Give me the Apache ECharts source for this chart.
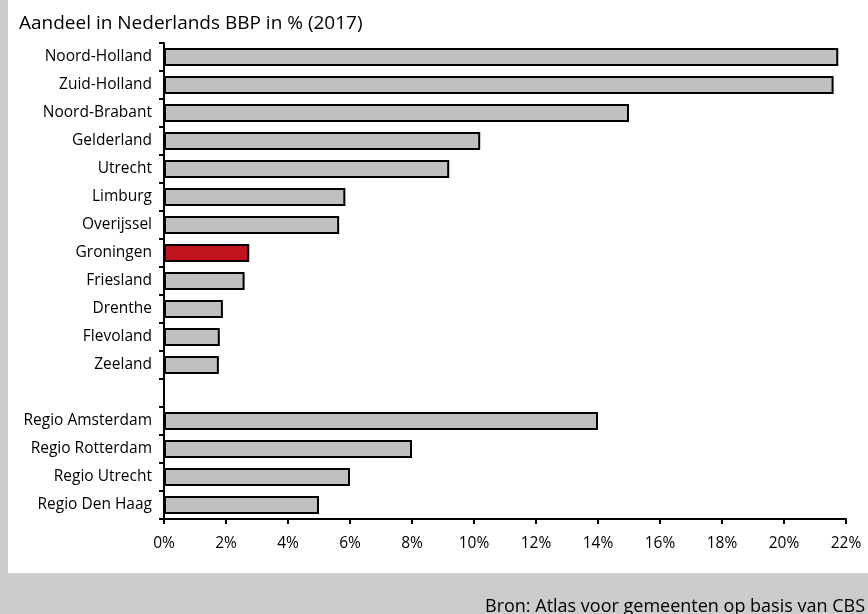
<!DOCTYPE html>
<html>
<head>
<meta charset="utf-8">
<script src="https://cdn.jsdelivr.net/npm/echarts@6/dist/echarts.min.js"></script>
<style>
html,body{margin:0;padding:0;background:#cccccc;}
#c{width:868px;height:614px;}
</style>
</head>
<body>
<div id="c"></div>
<script>
const categories = ['Noord-Holland','Zuid-Holland','Noord-Brabant','Gelderland','Utrecht','Limburg','Overijssel','Groningen','Friesland','Drenthe','Flevoland','Zeeland','','Regio Amsterdam','Regio Rotterdam','Regio Utrecht','Regio Den Haag'];
const values = [21.75, 21.6, 15.0, 10.2, 9.2, 5.85, 5.65, 2.75, 2.6, 1.9, 1.8, 1.77, null, 14.0, 8.0, 6.0, 5.0];
const highlight = 'Groningen';
const xTicks = [0, 2, 4, 6, 8, 10, 12, 14, 16, 18, 20, 22];
const titleText = 'Aandeel in Nederlands BBP in % (2017)';
const sourceText = 'Bron: Atlas voor gemeenten op basis van CBS';

const font = '"Open Sans", "Noto Sans", sans-serif';
const chart = echarts.init(document.getElementById('c'));
chart.setOption({
  animation: false,
  backgroundColor: 'transparent',
  graphic: [
    {type: 'rect', z: -10, shape: {x: 8, y: 0, width: 860, height: 573}, style: {fill: '#ffffff'}, silent: true},
    {type: 'text', z: 10, x: 485, y: 607, style: {text: sourceText, font: '18px ' + font, fill: '#000', verticalAlign: 'middle', align: 'left'}}
  ],
  title: {
    text: titleText, left: 14, top: 9,
    textStyle: {fontFamily: font, fontSize: 19, fontWeight: 'normal', color: '#000'}
  },
  grid: {left: 164, right: 22, top: 43, bottom: 95, containLabel: false},
  xAxis: {
    type: 'value', min: xTicks[0], max: xTicks[xTicks.length - 1], interval: 2,
    axisLine: {show: true, lineStyle: {color: '#000', width: 2}},
    axisTick: {show: true, length: 5, lineStyle: {color: '#000', width: 2}},
    splitLine: {show: false},
    axisLabel: {formatter: '{value}%', color: '#000', fontFamily: font, fontSize: 15.5, margin: 17}
  },
  yAxis: {
    type: 'category', data: categories, inverse: true,
    axisLine: {show: true, lineStyle: {color: '#000', width: 2}},
    axisTick: {show: true, length: 5, lineStyle: {color: '#000', width: 2}},
    axisLabel: {color: '#000', fontFamily: font, fontSize: 15.5, margin: 12}
  },
  series: [{
    type: 'bar', barWidth: 18,
    data: values.map((v, i) => ({
      value: v,
      itemStyle: {color: categories[i] === highlight ? '#c0141e' : '#c0c0c0'}
    })),
    itemStyle: {borderColor: '#000', borderWidth: 2},
    silent: true
  }]
});
</script>
</body>
</html>
